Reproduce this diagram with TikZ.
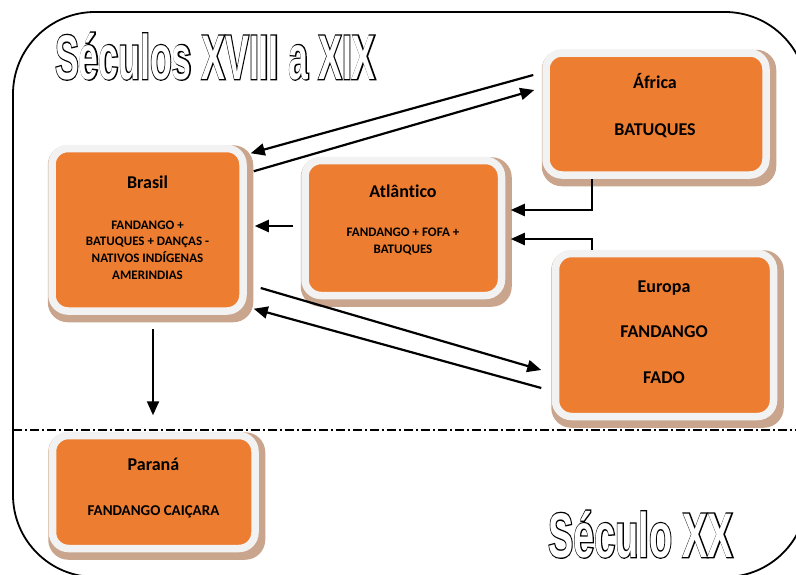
\documentclass[tikz,border=0pt]{standalone}
\usepackage{fontspec}
\setmainfont{Carlito}[Ligatures=NoCommon]
\newfontfamily\titlefont{Liberation Sans}
\newfontfamily\titlefontB{Liberation Sans}[FakeBold=4.2]
\usetikzlibrary{arrows.meta,backgrounds,calc}
\definecolor{boxorange}{HTML}{ED7D31}
\definecolor{boxgray}{HTML}{F2F2F2}
\definecolor{shadowtan}{HTML}{C8A58C}
\newcommand\outlined[1]{\rlap{\titlefontB\bfseries\color{black}#1}{\titlefont\bfseries\color{white}#1}}
\begin{document}
\begin{tikzpicture}[x=1pt,y=-1pt,
  box/.style={rectangle, rounded corners=16pt, fill=boxorange, draw=boxgray, line width=7.5pt, inner sep=0pt},
  head/.style={font=\bfseries\fontsize{18}{22}\selectfont, text=black, inner sep=0pt, anchor=base},
  small/.style={font=\bfseries\fontsize{13}{16.7}\selectfont, align=center, inner sep=0pt},
  mid/.style={font=\bfseries\fontsize{15}{18}\selectfont, inner sep=0pt, anchor=base},
  arr/.style={line width=2.2pt, -{Triangle[length=14pt,width=12pt]}},
  shadowbox/.style={fill=shadowtan, rounded corners=20pt},
  bigtitle/.style={inner sep=0pt, anchor=base west, font=\titlefont\bfseries\fontsize{63}{70}\selectfont}
]
\useasboundingbox (0,0) rectangle (796,574);
\clip (0,0) rectangle (796,574);

% outer frame and separator
\draw[line width=1.8pt, rounded corners=82pt] (13,12) rectangle (807,577);
\coordinate (dl) at (13,430);
\coordinate (dr) at (807,430);
\draw[line width=1.4pt, dash pattern=on 9pt off 3pt on 2pt off 3pt] (dl) -- (dr);

% boxes
\node[box, minimum width=191pt, minimum height=162.5pt] (brasil) at (147.5,229.75) {};
\node[box, minimum width=220pt, minimum height=122pt] (africa) at (656,114) {};
\node[box, minimum width=196.5pt, minimum height=135pt] (atl) at (403.25,228) {};
\node[box, minimum width=218pt, minimum height=163pt] (europa) at (664.5,335) {};
\node[box, minimum width=202.5pt, minimum height=113pt] (parana) at (153.75,492) {};

\begin{scope}[on background layer]
  \foreach \b in {brasil,africa,atl,europa,parana}{
    \fill[shadowbox] ([shift={(-0.5,0.5)}]\b.north west) rectangle ([shift={(6.5,7.5)}]\b.south east);
  }
\end{scope}

% texts
\node[head] (brasilT) at (147.5,188) {Brasil};
\node[small] (brasilC) at (147.5,250) {FANDANGO +\\BATUQUES + DANÇAS -\\NATIVOS INDÍGENAS\\AMERINDIAS};
\node[head] (africaT) at (655,88) {África};
\node[head] (africaC) at (655,135) {BATUQUES};
\node[head] (atlT) at (403,197) {Atlântico};
\node[small] (atlC) at (403,241.5) {FANDANGO + FOFA +\\BATUQUES};
\node[head] (europaT) at (664,292) {Europa};
\node[head] (europaC1) at (664,337) {FANDANGO};
\node[head] (europaC2) at (664,383) {FADO};
\node[head] (paranaT) at (153.5,470) {Paraná};
\node[mid] (paranaC) at (153.5,515) {FANDANGO CAIÇARA};

% titles
\node[bigtitle] (t1) at (55,79) {\scalebox{0.565}[1]{\outlined{Séculos XVIII a XIX}}};
\node[bigtitle] (t2) at (548,557) {\scalebox{0.6}[1]{\outlined{Século XX}}};

% connectors
\draw[arr] ([shift={(-9,-39)}]africa.west) -- ([shift={(4,8.5)}]brasil.north east);
\draw[arr] ([shift={(7,26.5)}]brasil.north east) -- ([shift={(-8,-24)}]africa.west);
\draw[arr] ([shift={(-8,-2)}]atl.west) -- ([shift={(8,-3.75)}]brasil.east);
\draw[arr] ([shift={(14,58.25)}]brasil.east) -- ([shift={(-10.5,35)}]europa.west);
\draw[arr] ([shift={(-10.5,53)}]europa.west) -- ([shift={(7,-6)}]brasil.south east);
\draw[arr] ([shift={(-64,0)}]africa.south) |- ([shift={(5.5,-18)}]atl.east);
\draw[arr] ([shift={(-72.5,0)}]europa.north) |- ([shift={(5.5,11)}]atl.east);
\draw[arr] ([shift={(5.5,14)}]brasil.south) -- ([shift={(-0.75,-16.5)}]parana.north);
\end{tikzpicture}
\end{document}
